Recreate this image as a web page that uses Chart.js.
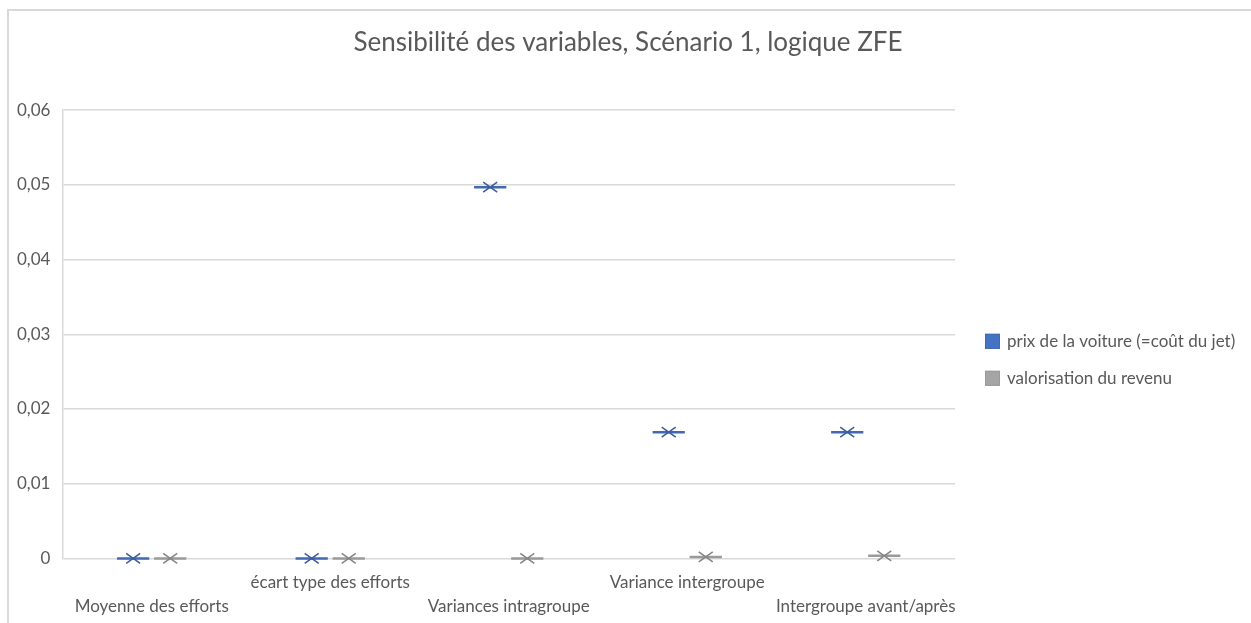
<!DOCTYPE html>
<html>
<head>
<meta charset="utf-8">
<script src="https://cdn.jsdelivr.net/npm/chart.js@4/dist/chart.umd.min.js"></script>
<style>
  html, body { margin: 0; padding: 0; background: #fff; overflow: hidden; }
  #frame {
    position: absolute; left: 7px; top: 9px;
    width: 1270px; height: 640px;
    border-left: 2px solid #d9d9d9; border-top: 2px solid #d9d9d9;
  }
  #wrap { position: absolute; left: -8px; top: 0; width: 1250px; height: 612px; }
</style>
</head>
<body>
<div id="frame"><div id="wrap"><canvas id="myChart"></canvas></div></div>
<script>
const categories = [
  ["", "Moyenne des efforts"],
  ["écart type des efforts"],
  ["", "Variances intragroupe"],
  ["Variance intergroupe"],
  ["", "Intergroupe avant/après"],
];
const seriesNames = ["prix de la voiture (=coût du jet)", "valorisation du revenu"];
const prixVoiture = [0, 0, 0.0497, 0.0169, 0.0169];
const valorisationRevenu = [0, 0, 0, 0.0002, 0.00035];
const yTicks = [0, 0.01, 0.02, 0.03, 0.04, 0.05, 0.06];

const fillColors = ["#4472C4", "#A5A5A5"];
const lineColors = ["#4468B0", "#9A9A9A"];
const crossColors = ["#3B5C9E", "#858585"];
const textColor = "#595959";
const font = "Lato";

// each value is shown as a flat box (line across the slot) with an X at its mean
const boxMarks = {
  id: "boxMarks",
  afterDatasetsDraw(chart) {
    const c = chart.ctx;
    chart.data.datasets.forEach((ds, i) => {
      const meta = chart.getDatasetMeta(i);
      meta.data.forEach((bar) => {
        const half = bar.width / 2;
        c.save();
        c.strokeStyle = lineColors[i];
        c.lineWidth = 2.5;
        c.beginPath();
        c.moveTo(bar.x - half, bar.y);
        c.lineTo(bar.x + half, bar.y);
        c.stroke();
        c.strokeStyle = crossColors[i];
        c.lineWidth = 1.5;
        c.beginPath();
        c.moveTo(bar.x - 7, bar.y - 5);
        c.lineTo(bar.x + 7, bar.y + 5);
        c.moveTo(bar.x - 7, bar.y + 5);
        c.lineTo(bar.x + 7, bar.y - 5);
        c.stroke();
        c.restore();
      });
    });
  },
};

// legend to the right of the plot, drawn by hand so the gap can be set
const sideLegend = {
  id: "sideLegend",
  afterDraw(chart) {
    const c = chart.ctx;
    const area = chart.chartArea;
    const x = area.right + 30;
    let y = (area.top + area.bottom) / 2 + 7;
    c.save();
    c.font = "17px " + font;
    c.textBaseline = "middle";
    chart.data.datasets.forEach((ds, i) => {
      c.fillStyle = fillColors[i];
      c.fillRect(x, y - 7.5, 15, 15);
      c.strokeStyle = lineColors[i];
      c.lineWidth = 1;
      c.strokeRect(x + 0.5, y - 7, 14, 14);
      c.fillStyle = textColor;
      c.fillText(ds.label, x + 22, y);
      y += 37;
    });
    c.restore();
  },
};

const ctx = document.getElementById("myChart");

new Chart(ctx, {
  type: "bar",
  data: {
    labels: categories,
    datasets: [
      {
        label: seriesNames[0],
        data: prixVoiture,
        backgroundColor: "rgba(0,0,0,0)",
        borderWidth: 0,
        categoryPercentage: 0.415,
        barPercentage: 0.87,
      },
      {
        label: seriesNames[1],
        data: valorisationRevenu,
        backgroundColor: "rgba(0,0,0,0)",
        borderWidth: 0,
        categoryPercentage: 0.415,
        barPercentage: 0.87,
      },
    ],
  },
  options: {
    responsive: true,
    maintainAspectRatio: false,
    animation: false,
    layout: { padding: { left: 4, right: 0, top: 0, bottom: 1 } },
    plugins: {
      title: {
        display: true,
        text: "Sensibilité des variables, Scénario 1, logique ZFE",
        color: textColor,
        font: { family: font, size: 26, weight: "normal" },
        padding: { top: 16, bottom: 52 },
      },
      legend: { display: false },
      tooltip: { enabled: false },
    },
    scales: {
      x: {
        grid: { display: false },
        border: { display: false },
        ticks: {
          color: textColor,
          font: { family: font, size: 17, lineHeight: 1.4 },
          padding: 4,
          autoSkip: false,
          maxRotation: 0,
        },
      },
      y: {
        min: 0,
        max: 0.06,
        afterBuildTicks(axis) {
          axis.ticks = yTicks.map((v) => ({ value: v }));
        },
        grid: { color: "#d9d9d9", lineWidth: 1.5, drawTicks: false },
        border: { display: true, color: "#d9d9d9", width: 1.5 },
        ticks: {
          color: textColor,
          font: { family: font, size: 17 },
          padding: 12,
          callback: (v) => (v === 0 ? "0" : v.toFixed(2).replace(".", ",")),
        },
      },
      // empty column on the right that holds the legend
      legendSpace: {
        position: "right",
        display: true,
        grid: { display: false, drawOnChartArea: false },
        border: { display: false },
        ticks: { display: false },
        afterFit(scale) {
          scale.width = 296;
        },
      },
    },
  },
  plugins: [boxMarks, sideLegend],
});
</script>
</body>
</html>
